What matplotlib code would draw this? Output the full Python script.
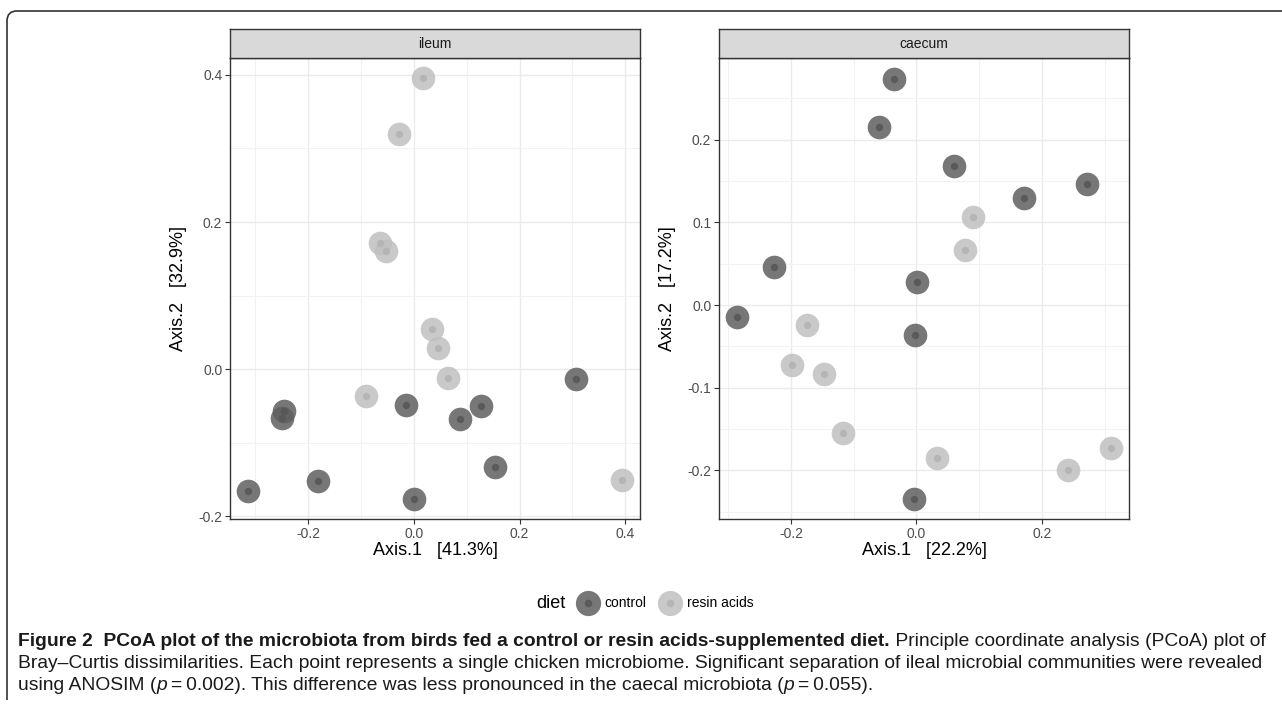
import matplotlib
matplotlib.use('Agg')
import matplotlib.pyplot as plt
from matplotlib.path import Path
from matplotlib.patches import PathPatch
from matplotlib.legend_handler import HandlerTuple

W, H = 1282, 706

# ---- data ----
ileum_control_x = [-0.246, -0.249, -0.313, -0.182, -0.014, 0.000, 0.087, 0.127, 0.154, 0.307]
ileum_control_y = [-0.057, -0.066, -0.166, -0.152, -0.048, -0.176, -0.068, -0.050, -0.133, -0.013]
ileum_resin_x = [0.018, -0.028, -0.064, -0.052, 0.035, 0.046, 0.065, -0.091, 0.394]
ileum_resin_y = [0.395, 0.319, 0.172, 0.160, 0.055, 0.029, -0.012, -0.037, -0.150]

caecum_control_x = [-0.036, -0.059, 0.060, 0.172, 0.272, -0.228, 0.001, -0.286, -0.003, -0.004]
caecum_control_y = [0.274, 0.216, 0.168, 0.130, 0.146, 0.046, 0.028, -0.014, -0.036, -0.235]
caecum_resin_x = [0.090, 0.078, -0.175, -0.198, -0.148, -0.117, 0.032, 0.241, 0.310]
caecum_resin_y = [0.107, 0.067, -0.024, -0.072, -0.084, -0.155, -0.185, -0.200, -0.173]

panel_names = ['ileum', 'caecum']
x_labels = ['Axis.1   [41.3%]', 'Axis.1   [22.2%]']
y_labels = ['Axis.2   [32.9%]', 'Axis.2   [17.2%]']
diet_levels = ['control', 'resin acids']

ileum_xticks = [-0.2, 0.0, 0.2, 0.4]
ileum_yticks = [-0.2, 0.0, 0.2, 0.4]
caecum_xticks = [-0.2, 0.0, 0.2]
caecum_yticks = [-0.2, -0.1, 0.0, 0.1, 0.2]

OUTER = {'control': '#5f5f5f', 'resin acids': '#c0c0c0'}
INNER = {'control': '#575757', 'resin acids': '#b3b3b3'}

plt.rcParams['font.family'] = ['Liberation Sans', 'DejaVu Sans']
CAP_FONT = ['Liberation Sans', 'DejaVu Sans']

fig = plt.figure(figsize=(W / 100, H / 100), dpi=100)


def px(x0, y0, x1, y1):
    """ pixel box (top-left origin) -> figure rect """
    return [x0 / W, 1 - y1 / H, (x1 - x0) / W, (y1 - y0) / H]


def draw_panel(rect, name, cx, cy, rx, ry, xlim, ylim, xticks, yticks, xminor, yminor, xlab, ylab):
    ax = fig.add_axes(px(*rect))
    ax.set_xlim(*xlim)
    ax.set_ylim(*ylim)
    ax.set_xticks(xticks)
    ax.set_yticks(yticks)
    ax.set_xticklabels([f'{v:.1f}' for v in xticks])
    ax.set_yticklabels([f'{v:.1f}' for v in yticks])
    ax.set_xticks(xminor, minor=True)
    ax.set_yticks(yminor, minor=True)
    ax.tick_params(which='minor', length=0)
    ax.tick_params(which='major', length=3.5, width=0.8, color='#333333',
                   labelsize=10, labelcolor='#4d4d4d', pad=2)
    ax.grid(which='major', color='#ebebeb', lw=1.0)
    ax.grid(which='minor', color='#f2f2f2', lw=0.8)
    ax.set_axisbelow(True)
    for s in ax.spines.values():
        s.set_color('#333333')
        s.set_linewidth(1.0)
    for xs, ys, lev in [(cx, cy, 'control'), (rx, ry, 'resin acids')]:
        ax.scatter(xs, ys, s=290, color=OUTER[lev], alpha=0.85, lw=0, zorder=3)
        ax.scatter(xs, ys, s=28, color=INNER[lev], alpha=0.9, lw=0, zorder=4)
    ax.set_xlabel(xlab, fontsize=13, color='black', labelpad=1)
    ax.set_ylabel(ylab, fontsize=13, color='black', labelpad=8)

    # facet strip
    x0, y0, x1, y1 = rect
    sax = fig.add_axes(px(x0, 29, x1, y0))
    sax.set_xticks([])
    sax.set_yticks([])
    sax.set_facecolor('#d9d9d9')
    for s in sax.spines.values():
        s.set_color('#333333')
        s.set_linewidth(1.0)
    sax.text(0.5, 0.5, name, ha='center', va='center', fontsize=10, color='#1a1a1a',
             transform=sax.transAxes)
    return ax


ax1 = draw_panel((230, 58, 640, 519), panel_names[0],
                 ileum_control_x, ileum_control_y, ileum_resin_x, ileum_resin_y,
                 (-0.348, 0.428), (-0.2034, 0.4228), ileum_xticks, ileum_yticks,
                 [-0.3, -0.1, 0.1, 0.3], [-0.1, 0.1, 0.3],
                 x_labels[0], y_labels[0])
ax2 = draw_panel((719, 58, 1129, 519), panel_names[1],
                 caecum_control_x, caecum_control_y, caecum_resin_x, caecum_resin_y,
                 (-0.315, 0.339), (-0.259, 0.299), caecum_xticks, caecum_yticks,
                 [-0.3, -0.1, 0.1, 0.3], [-0.25, -0.15, -0.05, 0.05, 0.15, 0.25],
                 x_labels[1], y_labels[1])

# legend
handles = []
for lev in diet_levels:
    o = plt.scatter([], [], s=330, color=OUTER[lev], alpha=0.85, lw=0)
    i = plt.scatter([], [], s=30, color=INNER[lev], alpha=0.9, lw=0)
    handles.append((o, i))
leg = fig.legend(handles, diet_levels, ncol=2, loc='center', bbox_to_anchor=(666 / W, 1 - 603 / H),
                 frameon=False, fontsize=10, handler_map={tuple: HandlerTuple(ndivide=1, pad=0)},
                 handlelength=1.4, handletextpad=0.5, columnspacing=1.0)
fig.text(551 / W, 1 - 603 / H, 'diet', ha='center', va='center', fontsize=13)

# outer frame with rounded top-left corner
verts = [(7 / W, 1 - 700 / H), (7 / W, 1 - 21 / H), (7 / W, 1 - 11 / H),
         (17 / W, 1 - 11 / H), (1.0, 1 - 11 / H)]
codes = [Path.MOVETO, Path.LINETO, Path.CURVE3, Path.CURVE3, Path.LINETO]
fig.add_artist(PathPatch(Path(verts, codes), fill=False, edgecolor='#333333', lw=1.2,
                         transform=fig.transFigure))

# caption
renderer = fig.canvas.get_renderer()


def draw_runs(x, baseline, runs, size=13.85):
    for txt, style in runs:
        t = fig.text(x / W, 1 - baseline / H, txt, fontsize=size, family=CAP_FONT,
                     fontweight='bold' if style == 'b' else 'normal',
                     fontstyle='italic' if style == 'i' else 'normal',
                     color='#1a1a1a', ha='left', va='baseline')
        bb = t.get_window_extent(renderer)
        x = bb.x1


draw_runs(18, 646, [('Figure 2  PCoA plot of the microbiota from birds fed a control or resin acids-supplemented diet.', 'b'),
                    (' Principle coordinate analysis (PCoA) plot of', 'n')])
draw_runs(18, 668, [('Bray\u2013Curtis dissimilarities. Each point represents a single chicken microbiome. '
                     'Significant separation of ileal microbial communities were revealed', 'n')])
draw_runs(18, 690, [('using ANOSIM (', 'n'), ('p', 'i'), ('\u2009=\u20090.002). This difference was less pronounced in the caecal microbiota (', 'n'),
                    ('p', 'i'), ('\u2009=\u20090.055).', 'n')])

fig.savefig('out.png', dpi=100)
